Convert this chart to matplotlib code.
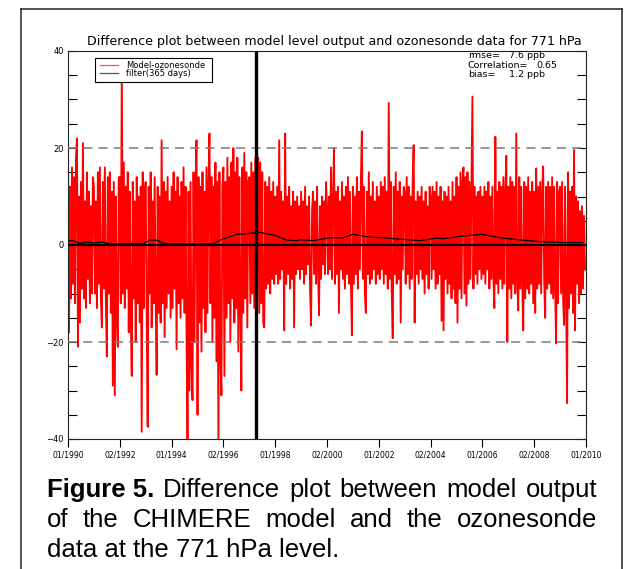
import numpy as np
import matplotlib
matplotlib.use("Agg")
import matplotlib.pyplot as plt
from matplotlib.lines import Line2D
from matplotlib.patches import Rectangle

# model - ozonesonde difference (ppb), roughly two soundings a month, one list per year
diff_by_year = [
    [20, -18, 12, -11, 16, -8, 14, -12, 18, 22, -21, 10, -16, 13, -9, 21, -11, 9, -13, 15, -7, 11, -12, 8, -10, 14],
    [12, -10, 9, -13, 15, -8, 16, -11, -17, 13, -9, 16, -12, -23, 14, -10, 15, -14, 11, -29, 13, -31, 10, -15, -21, 14],
    [14, -12, 36, -10, 17, -13, 12, -9, 15, -18, 11, -14, -27, 13, -11, 9, -20, 14, -12, 10, -16, 12, -38.5, 15, -13, 11],
    [13, -15, -37.5, 12, -10, 15, -17, 9, -12, 14, -11, -26.8, 12, -14, 10, -16, 21.6, -12, 13, -19, 11, -13, 14, -10, 9, -15],
    [12, -13, 15, -9, 11, -21.5, 14, -12, 10, -15, 13, -11, 16, -14, 12, -18, -42, 11, -30, 13, -25, -32, 15, -20, 12, 21.6],
    [-35, 14, -16, 12, -22, 15, -13, 11, -18, 16, -14, 13, 23, -12, 14, -20, 12, -15, 17, -24, 13, -42, 15, -23, -31, 12],
    [16, -27, 13, -15, 18, -12, 14, -20, 17, -11, 20, -16, 15, -13, 18, -22, 14, -12, -30, 16, -14, 19, -11, 15, -17, 13],
    [14, -12, 17, -10, 15, -13, 18, -11, 16, 18, -14, 17, -12, 15, -16, -17, 13, -9, 12, -8, 14, -10, 11, -7, 13, -8],
    [10, -6, 12, -8, 21.6, -7, 11, -5, 9, -17.6, 23, -8, 10, -6, 12, -9, 8, -7, 11, -17, 9, -6, 10, -5, 8, -7],
    [11, -5, 9, -8, 12, -6, 8, -4, 10, -9, -16.6, 7, 11, -6, 9, -8, 12, -5, -14.5, 8, -7, 10, -4, 9, -6, 13],
    [8, -6, 10, -5, 16, -7, 9, 20, -8, 11, -6, 12, -14, 9, -5, 13, -7, 10, -9, 12, -6, 14, -8, 11, -7, -18.6],
    [12, -8, 10, -6, 14, -9, 11, -5, 13, 23.4, -7, 12, -10, -14, 11, -6, 15, -8, 10, -7, 13, -5, 9, -8, 12, -6],
    [10, -7, 13, -5, 12, -8, 14, -6, 11, -9, 29.3, -7, 13, -10, -19.2, 12, -6, 15, -8, 11, -7, 13, -16, 10, -5, 12],
    [11, -8, 14, -6, 12, -9, 10, -7, 13, 20.6, -16, 9, -6, 11, -8, 10, -5, 12, -7, 9, -10, 11, -6, 8, -9, 12],
    [10, -7, 12, -5, 11, -9, 13, -8, 10, -6, 12, -15.6, 9, -17.6, 11, -7, 10, -10, 12, -8, 9, -11, 13, -9, 10, -12],
    [14, -16, 12, -9, 15, -11, 13, 16, -10, 14, -12.5, 15, -8, 13, -7, 11, 30.6, -9, 12, -6, 10, -8, 11, -5, 12, -7],
    [10, -6, 12, -8, 11, -5, 13, -9, 10, -7, 12, -6, -13, 22.3, -8, 11, -10, 13, -7, 12, -9, 14, -8, 11, 18.4, -20],
    [12, -9, 14, -11, 13, -8, 12, -10, 23, -7, -13.5, 14, -9, 12, -8, -17.6, 13, -11, 12, -9, 14, -10, 11, -8, 13, -12],
    [11, -14, 15.8, -9, 12, -8, 13, -10, 11, 16.2, -7, -15, 12, -9, 13, -8, 12, -10, 14, -11, 12, -9, -20.3, 13, -12, 11],
    [12, -10, 13, -11, -16.5, 12, -9, -32.6, 15, -13, 11, -10, 12, -14, 19.6, -17.6, 10, -8, 9, -12, 7, -10, 8, -9, 6, -5],
]
first_year = 1990

# 365-day running mean
filter_years = [1990.0, 1990.2, 1990.46, 1990.72, 1990.98, 1991.35, 1991.62, 1992.27, 1992.9,
                1993.17, 1993.42, 1993.67, 1993.94, 1994.83, 1995.6, 1995.87, 1996.13, 1996.51,
                1996.9, 1997.29, 1997.41, 1997.99, 1998.44, 1998.83, 1998.96, 1999.46, 2000.12,
                2000.62, 2001.0, 2001.66, 2002.16, 2002.82, 2003.59, 2004.23, 2004.48, 2004.75,
                2005.14, 2005.97, 2006.8, 2007.57, 2008.22, 2009.1, 2009.88]
filter_vals = [0.9, 0.9, 0.3, 0.6, 0.4, 0.6, 0.2, 0.3, 0.3,
               1.0, 1.0, 0.4, 0.2, 0.2, 0.2, 1.0, 1.5, 2.2,
               2.3, 2.6, 2.6, 2.0, 1.0, 0.9, 1.1, 0.9, 1.5,
               1.5, 2.2, 1.6, 1.5, 1.2, 0.9, 1.4, 1.3, 1.5,
               1.8, 2.2, 1.4, 1.0, 0.7, 0.5, 0.5]

switch_year = 1997.24
year_ticks = [1990, 1992, 1994, 1996, 1998, 2000, 2002, 2004, 2006, 2008, 2010]
year_labels = ["01/1990", "02/1992", "01/1994", "02/1996", "01/1998", "02/2000",
               "01/2002", "02/2004", "01/2006", "02/2008", "01/2010"]
stat_names = ["rmse=", "Correlation=", "bias="]
stat_values = ["7.6 ppb", "0.65", "1.2 ppb"]

title = "Difference plot between model level output and ozonesonde data for 771 hPa"
caption = [
    ["Figure 5.", "Difference", "plot", "between", "model", "output"],
    ["of", "the", "CHIMERE", "model", "and", "the", "ozonesonde"],
    ["data at the 771 hPa level."],
]

W, H = 632, 569
fig = plt.figure(figsize=(W / 100, H / 100), dpi=100)


def px(x, y):
    return x / W, 1 - y / H


# outer frame
frame = dict(color="#333333", lw=1.2, transform=fig.transFigure)
fig.add_artist(Line2D([21 / W, 21 / W], [0, 1 - 9 / H], **frame))
fig.add_artist(Line2D([21 / W, 622 / W], [1 - 9 / H, 1 - 9 / H], **frame))
fig.add_artist(Line2D([622 / W, 622 / W], [0, 1 - 9 / H], **frame))

ax = fig.add_axes([68 / W, 1 - 439 / H, 518 / W, 388 / H])

t = []
v = []
for k, vals in enumerate(diff_by_year):
    n = len(vals)
    t.extend(first_year + k + np.arange(n) / n)
    v.extend(vals)

ax.plot(t, v, color="red", lw=1.35, zorder=2)
ax.plot(filter_years, filter_vals, color="black", lw=0.9, zorder=3)
ax.axhline(0, color="black", lw=1.6, zorder=4)
for yy in (20, -20):
    ax.axhline(yy, color="#7a7a7a", lw=1.1, dashes=(6, 4), zorder=4)
ax.axvline(switch_year, color="black", lw=2.4, zorder=5)

ax.set_xlim(1990, 2010)
ax.set_ylim(-40, 40)
ax.set_xticks(year_ticks)
ax.set_xticklabels(year_labels, fontsize=5.5)
yt = list(range(-40, 41, 5))
ax.set_yticks(yt)
ax.set_yticklabels([f"{y}".replace("-", "\u2212") if y % 20 == 0 else "" for y in yt], fontsize=6)
ax.tick_params(axis="y", direction="in", length=6.5, width=0.8, left=True, right=True, pad=3)
ax.tick_params(axis="x", direction="out", length=6, width=0.8, pad=2)
for s in ax.spines.values():
    s.set_linewidth(0.8)
    s.set_color("#222222")

# legend box drawn by hand, as in the original IDL plot
lx0, lx1 = (95 - 68) / 518, (212 - 68) / 518
ly0, ly1 = (439 - 82) / 388, (439 - 58) / 388
ax.add_patch(Rectangle((lx0, ly0), lx1 - lx0, ly1 - ly0, transform=ax.transAxes,
                       facecolor="white", edgecolor="black", lw=0.8, zorder=6))
for yy, col, lab in [(65, "#ff5050", "Model-ozonesonde"), (73, "#555555", "filter(365 days)")]:
    yf = (439 - yy) / 388
    ax.add_line(Line2D([(100 - 68) / 518, (118 - 68) / 518], [yf, yf], color=col, lw=0.9,
                       transform=ax.transAxes, zorder=7))
    ax.text((126 - 68) / 518, yf, lab, transform=ax.transAxes, fontsize=6,
            va="center", ha="left", zorder=7)

for i, (name, val) in enumerate(zip(stat_names, stat_values)):
    yy = 56 + i * 9.2
    fig.text(*px(468, yy), name, fontsize=6.8, va="center", ha="left")
    vx = 536 if name.startswith("Corr") else 509
    fig.text(*px(vx, yy), val, fontsize=6.8, va="center", ha="left")

fig.text(*px(334, 42), title, fontsize=9.1, ha="center", va="center")

# caption, first two lines justified
fig.canvas.draw()
r = fig.canvas.get_renderer()
cx0, cx1 = 47, 597
baselines = [497, 527, 557]
for li, words in enumerate(caption):
    texts = []
    for w in words:
        bold = w.startswith("Figure")
        texts.append(fig.text(*px(cx0, baselines[li]), w, fontsize=18.5,
                              family="Liberation Sans",
                              fontweight="bold" if bold else "normal",
                              ha="left", va="baseline"))
    if len(texts) > 1:
        widths = [tx.get_window_extent(r).width for tx in texts]
        gap = (cx1 - cx0 - sum(widths)) / (len(texts) - 1)
        x = cx0
        for tx, wd in zip(texts, widths):
            tx.set_x(x / W)
            x += wd + gap

fig.savefig("out.png", dpi=100)
